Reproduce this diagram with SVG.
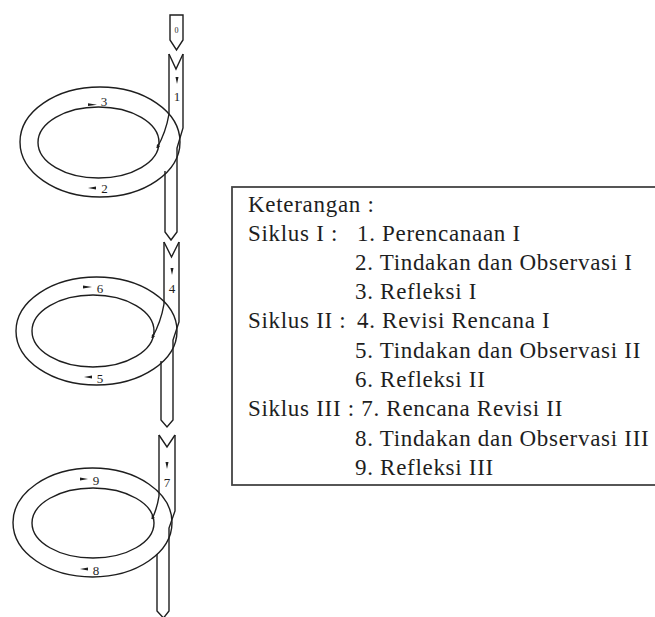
<svg xmlns="http://www.w3.org/2000/svg" width="655" height="617" viewBox="0 0 655 617">
  <style>
    .ln { fill: none; stroke: #1e1e1e; stroke-width: 1.4; stroke-linejoin: miter; }
    .mk { fill: #1e1e1e; stroke: none; }
    .num { font-family: "Liberation Serif", "Times New Roman", serif; font-size: 13px; fill: #1e1e1e; text-anchor: middle; }
    .leg { font-family: "Liberation Serif", "Times New Roman", serif; font-size: 23px; letter-spacing: 0.7px; fill: #1e1e1e; }
    .frame { fill: none; stroke: #444; stroke-width: 1.8; }
  </style>
  <defs>
    <marker id="tip" viewBox="0 0 6 6" refX="5" refY="3" markerWidth="4" markerHeight="4" markerUnits="userSpaceOnUse" orient="auto">
      <path d="M0,0 L6,3 L0,6 Z" fill="#1e1e1e"/>
    </marker>
  </defs>

  <!-- starting point -->
  <g id="start">
    <path class="ln" d="M170,15 H183 V40 L176.5,50 L170,40 Z"/>
    <text class="num" x="176.5" y="33" style="font-size:8px">0</text>
  </g>

  <!-- cycle I : ring with plan, action/observation and reflection -->
  <g id="cycle-1">
    <ellipse class="ln" cx="100" cy="142" rx="80" ry="55"/>
    <ellipse class="ln" cx="98.5" cy="142.5" rx="60.5" ry="35.5"/>
    <path class="mk" d="M175.5,77 H178.5 L177,84 Z"/>
    <text class="num" x="177" y="101">1</text>
    <path class="mk" d="M96,186.6 L88,188 L96,189.4 Z"/>
    <text class="num" x="104.5" y="193">2</text>
    <path class="mk" d="M88,103.3 L97,104.7 L88,106.1 Z"/>
    <text class="num" x="104" y="105.5">3</text>
  </g>

  <!-- cycle II -->
  <g id="cycle-2">
    <ellipse class="ln" cx="96.5" cy="331" rx="80.5" ry="54"/>
    <ellipse class="ln" cx="93" cy="331" rx="61" ry="36"/>
    <path class="mk" d="M170.5,268 H173.5 L172,275 Z"/>
    <text class="num" x="172" y="293">4</text>
    <path class="mk" d="M92,375.6 L84,377 L92,378.4 Z"/>
    <text class="num" x="100" y="383">5</text>
    <path class="mk" d="M83,285.6 L92,287 L83,288.4 Z"/>
    <text class="num" x="100" y="293">6</text>
  </g>

  <!-- cycle III -->
  <g id="cycle-3">
    <ellipse class="ln" cx="92.5" cy="522.5" rx="79.5" ry="54.5"/>
    <ellipse class="ln" cx="93" cy="523" rx="61" ry="35"/>
    <path class="mk" d="M165.5,462 H168.5 L167,469 Z"/>
    <text class="num" x="167" y="487">7</text>
    <path class="mk" d="M88,567.6 L80,569 L88,570.4 Z"/>
    <text class="num" x="96" y="575">8</text>
    <path class="mk" d="M80,477.6 L88,479 L80,480.4 Z"/>
    <text class="num" x="96" y="485">9</text>
  </g>

  <!-- flow bands that enter and leave each ring -->
  <g id="connectors">
    <path class="ln" d="M169,54 L176,69 L183,54"/>
    <path class="ln" d="M169,54 V114 Q166,132 157,148" marker-end="url(#tip)"/>
    <path class="ln" d="M183,54 V128 L177,148 V232 L171,240 L165,232 V171"/>

    <path class="ln" d="M164,242 L171.5,257 L179,242"/>
    <path class="ln" d="M164,242 V304 Q161,322 152,338" marker-end="url(#tip)"/>
    <path class="ln" d="M179,242 V322 L173,340 V420 L167,427 L161,420 V361"/>

    <path class="ln" d="M159,435 L167,447 L175,435"/>
    <path class="ln" d="M159,435 V496 Q157,509 152,519" marker-end="url(#tip)"/>
    <path class="ln" d="M175,435 V511 L169,528 V611 L163.5,618 L157,611 V554"/>
  </g>

  <!-- legend -->
  <g id="legend">
    <rect class="frame" x="232" y="187" width="430" height="298"/>
    <text class="leg" x="248" y="212">Keterangan :</text>
    <text class="leg" x="248" y="241">Siklus I :</text>
    <text class="leg" x="357" y="241">1. Perencanaan I</text>
    <text class="leg" x="355" y="270">2. Tindakan dan Observasi I</text>
    <text class="leg" x="355" y="299">3. Refleksi I</text>
    <text class="leg" x="248" y="328">Siklus II :</text>
    <text class="leg" x="357" y="328">4. Revisi Rencana I</text>
    <text class="leg" x="355" y="358">5. Tindakan dan Observasi II</text>
    <text class="leg" x="355" y="387">6. Refleksi II</text>
    <text class="leg" x="248" y="416">Siklus III : 7. Rencana Revisi II</text>
    <text class="leg" x="355" y="446">8. Tindakan dan Observasi III</text>
    <text class="leg" x="355" y="475">9. Refleksi III</text>
  </g>
</svg>
